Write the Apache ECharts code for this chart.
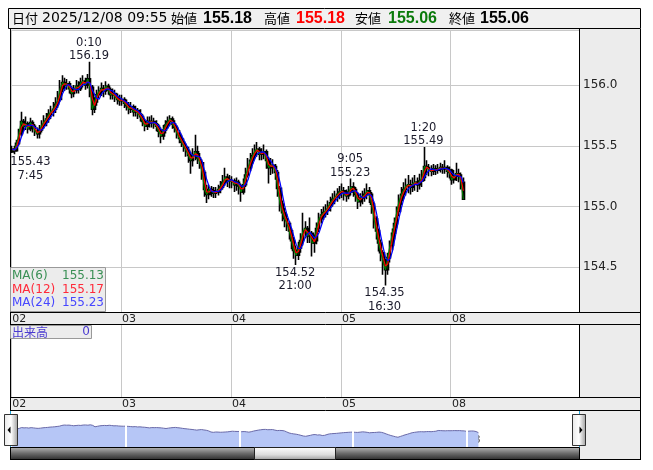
<!DOCTYPE html>
<html><head><meta charset="utf-8">
<script src="https://cdn.jsdelivr.net/npm/echarts@6/dist/echarts.min.js"></script>
<style>html,body{margin:0;padding:0;background:#fff}#c{width:653px;height:470px}</style>
</head><body><div id="c"></div>
<script>
// ---- data (30-minute bars; sessions start 7:00) ----
const days = ['02','03','04','05','08'];
const opens = [
155.45,155.47,155.46,155.52,155.60,155.70,155.66,155.68,155.64,155.69,155.66,155.62,155.60,155.63,155.67,155.70,155.72,155.76,155.78,155.80,155.84,155.88,155.97,156.02,156.00,156.01,155.97,155.93,155.96,155.99,155.97,156.02,156.03,156.00,156.05,155.98,155.80,155.86,155.92,155.95,155.97,155.95,155.99,155.96,155.92,155.93,155.90,155.88,
155.87,155.88,155.85,155.83,155.80,155.82,155.78,155.79,155.76,155.74,155.70,155.66,155.70,155.69,155.70,155.68,155.66,155.62,155.58,155.63,155.67,155.70,155.72,155.68,155.65,155.60,155.56,155.53,155.49,155.46,155.42,155.38,155.42,155.45,155.40,155.36,155.28,155.14,155.10,155.14,155.13,155.11,155.12,155.14,155.16,155.20,155.24,155.22,
155.21,155.21,155.18,155.20,155.17,155.12,155.18,155.26,155.32,155.38,155.42,155.46,155.47,155.43,155.44,155.45,155.38,155.32,155.34,155.33,155.28,155.15,155.02,154.95,154.90,154.86,154.80,154.72,154.64,154.60,154.66,154.72,154.80,154.82,154.76,154.78,154.70,154.72,154.82,154.90,154.93,154.95,154.97,155.00,155.03,155.06,155.08,155.10,
155.12,155.13,155.10,155.09,155.12,155.16,155.14,155.10,155.04,155.07,155.08,155.10,155.13,155.10,155.02,154.90,154.80,154.70,154.62,154.54,154.48,154.58,154.68,154.78,154.86,154.96,155.05,155.10,155.14,155.17,155.18,155.16,155.19,155.20,155.18,155.21,155.24,155.33,155.32,155.30,155.29,155.31,155.30,155.31,155.32,155.31,155.32,155.29,
155.30,155.22,155.25,155.27,155.26,155.20];
const highs = [
155.50,155.50,155.55,155.64,155.78,155.72,155.74,155.70,155.73,155.71,155.68,155.65,155.67,155.71,155.75,155.77,155.80,155.83,155.86,155.90,155.95,156.04,156.08,156.06,156.05,156.03,155.99,156.00,156.04,156.03,156.06,156.08,156.06,156.09,156.19,156.00,155.90,155.96,155.99,156.02,156.00,156.03,156.01,155.98,155.97,155.96,155.93,155.92,
155.92,155.90,155.88,155.86,155.86,155.84,155.83,155.81,155.80,155.76,155.72,155.74,155.74,155.75,155.73,155.71,155.68,155.65,155.67,155.71,155.74,155.75,155.74,155.71,155.67,155.63,155.59,155.56,155.52,155.49,155.45,155.48,155.59,155.50,155.44,155.39,155.30,155.18,155.18,155.17,155.16,155.16,155.18,155.21,155.26,155.32,155.27,155.26,
155.25,155.23,155.24,155.22,155.19,155.23,155.32,155.40,155.44,155.48,155.51,155.53,155.49,155.48,155.51,155.47,155.41,155.40,155.39,155.35,155.30,155.17,155.05,154.99,154.94,154.88,154.82,154.75,154.68,154.71,154.78,154.95,154.88,154.84,154.91,154.80,154.77,154.87,154.95,154.98,155.00,155.02,155.05,155.08,155.11,155.13,155.15,155.17,
155.19,155.16,155.14,155.17,155.23,155.20,155.16,155.12,155.11,155.13,155.15,155.19,155.16,155.12,155.04,154.92,154.82,154.73,154.64,154.57,154.62,154.72,154.82,154.91,155.00,155.10,155.16,155.20,155.23,155.26,155.22,155.24,155.26,155.24,155.27,155.30,155.49,155.38,155.35,155.34,155.35,155.34,155.35,155.36,155.35,155.38,155.34,155.33,
155.31,155.30,155.36,155.31,155.28,155.24];
const lows = [
155.44,155.43,155.45,155.50,155.58,155.62,155.63,155.60,155.62,155.61,155.58,155.56,155.56,155.61,155.64,155.66,155.69,155.72,155.74,155.77,155.81,155.86,155.94,155.95,155.96,155.93,155.89,155.90,155.93,155.93,155.95,155.98,155.96,155.97,155.90,155.75,155.77,155.83,155.89,155.91,155.90,155.92,155.92,155.88,155.88,155.86,155.84,155.83,
155.83,155.81,155.79,155.76,155.77,155.74,155.74,155.72,155.70,155.66,155.62,155.63,155.65,155.65,155.64,155.62,155.57,155.52,155.55,155.60,155.64,155.66,155.64,155.61,155.56,155.52,155.49,155.45,155.41,155.36,155.27,155.33,155.38,155.35,155.31,155.22,155.08,155.03,155.06,155.08,155.07,155.07,155.09,155.11,155.14,155.17,155.16,155.15,
155.15,155.12,155.13,155.10,155.04,155.10,155.16,155.24,155.29,155.35,155.39,155.41,155.38,155.38,155.39,155.31,155.19,155.26,155.27,155.22,155.08,154.96,154.88,154.83,154.80,154.73,154.65,154.57,154.52,154.56,154.62,154.68,154.74,154.70,154.70,154.59,154.62,154.69,154.79,154.86,154.89,154.91,154.93,154.96,155.00,155.02,155.04,155.06,
155.07,155.05,155.04,155.06,155.09,155.08,155.04,154.98,155.00,155.02,155.04,155.06,155.03,154.94,154.82,154.73,154.63,154.55,154.44,154.35,154.44,154.54,154.64,154.73,154.82,154.92,155.01,155.06,155.09,155.11,155.10,155.12,155.13,155.12,155.14,155.16,155.21,155.26,155.25,155.25,155.26,155.26,155.27,155.28,155.27,155.27,155.24,155.23,
155.18,155.19,155.21,155.20,155.14,155.06];
const closes = [
155.47,155.46,155.52,155.60,155.70,155.66,155.68,155.64,155.69,155.66,155.62,155.60,155.63,155.67,155.70,155.72,155.76,155.78,155.80,155.84,155.88,155.97,156.02,156.00,156.01,155.97,155.93,155.96,155.99,155.97,156.02,156.03,156.00,156.05,155.98,155.80,155.86,155.92,155.95,155.97,155.95,155.99,155.96,155.92,155.93,155.90,155.88,155.87,
155.88,155.85,155.83,155.80,155.82,155.78,155.79,155.76,155.74,155.70,155.66,155.70,155.69,155.70,155.68,155.66,155.62,155.58,155.63,155.67,155.70,155.72,155.68,155.65,155.60,155.56,155.53,155.49,155.46,155.42,155.38,155.42,155.45,155.40,155.36,155.28,155.14,155.10,155.14,155.13,155.11,155.12,155.14,155.16,155.20,155.24,155.22,155.21,
155.21,155.18,155.20,155.17,155.12,155.18,155.26,155.32,155.38,155.42,155.46,155.47,155.43,155.44,155.45,155.38,155.32,155.34,155.33,155.28,155.15,155.02,154.95,154.90,154.86,154.80,154.72,154.64,154.60,154.66,154.72,154.80,154.82,154.76,154.78,154.70,154.72,154.82,154.90,154.93,154.95,154.97,155.00,155.03,155.06,155.08,155.10,155.12,
155.13,155.10,155.09,155.12,155.16,155.14,155.10,155.04,155.07,155.08,155.10,155.13,155.10,155.02,154.90,154.80,154.70,154.62,154.54,154.48,154.58,154.68,154.78,154.86,154.96,155.05,155.10,155.14,155.17,155.18,155.16,155.19,155.20,155.18,155.21,155.24,155.33,155.32,155.30,155.29,155.31,155.30,155.31,155.32,155.31,155.32,155.29,155.28,
155.22,155.25,155.27,155.26,155.20,155.06];

// moving averages defined on 5-minute bars
const maNames = ['MA(6)','MA(12)','MA(24)'];
const maPeriods5m = [6,12,24];
const maLegendValues = ['155.13','155.17','155.23'];

// annotated highs / lows
const pivotDays   = ['02','02','04','05','05','05'];
const pivotTimes  = ['7:45','0:10','21:00','9:05','16:30','1:20'];
const pivotPrices = [155.43,156.19,154.52,155.23,154.35,155.49];
const pivotKinds  = ['low','high','low','high','low','high'];

// header
const headerDate = '2025/12/08 09:55';
const headerLabels = ['始値','高値','安値','終値'];
const headerValues = ['155.18','155.18','155.06','155.06'];

const volumeLabel = '出来高';
const volumeValue = '0';

// ---- build ----
const BAR_MIN = 30, PER_DAY = 48, N_MAIN = 248, N_NAV = 240;
function slotName(i){
  const d = Math.floor(i / PER_DAY);
  if (d >= days.length) return 'x' + i;
  const m = (420 + BAR_MIN * (i % PER_DAY)) % 1440;
  return days[d] + ' ' + String(Math.floor(m/60)).padStart(2,'0') + ':' + String(m%60).padStart(2,'0');
}
const mainCats = Array.from({length:N_MAIN}, (_,i)=>slotName(i));
const navCats = Array.from({length:N_NAV}, (_,i)=>slotName(i));
const isDayStart = i => i % PER_DAY === 0 && i / PER_DAY < days.length;
const dayLabel = (v,i) => isDayStart(i) ? days[i/PER_DAY] : '';

const candles = opens.map((o,i)=>[o, closes[i], lows[i], highs[i]]);
function movingAvg(win){
  return closes.map((_,i)=>{ const s=Math.max(0,i-win+1); let t=0; for(let k=s;k<=i;k++) t+=closes[k]; return +(t/(i-s+1)).toFixed(4); });
}
const maColors = ['#008000','#ff0000','#0000ff'];
const maSeries = maPeriods5m.map((p,k)=>({
  type:'line', name:maNames[k], xAxisIndex:0, yAxisIndex:0,
  data: movingAvg(Math.max(1, Math.round(p*5/BAR_MIN))),
  symbol:'none', lineStyle:{color:maColors[k], width:1.2}, itemStyle:{color:maColors[k]}, z:3+k
}));

function pivotIndex(k){
  const d = days.indexOf(pivotDays[k]);
  const [h,m] = pivotTimes[k].split(':').map(Number);
  const mins = ((h*60+m) - 420 + 1440) % 1440;
  return d*PER_DAY + Math.floor(mins / BAR_MIN);
}
const FONT = '"DejaVu Sans", sans-serif';
const markData = pivotPrices.map((p,k)=>{
  const high = pivotKinds[k] === 'high';
  return {
    coord:[pivotIndex(k), p], value:p,
    label:{
      show:true, position: high ? 'top':'bottom', distance: high ? -1 : 1,
      formatter: high ? (pivotTimes[k] + '\n' + p.toFixed(2)) : (p.toFixed(2) + '\n' + pivotTimes[k]),
      color:'#1a1a2a', fontSize:11.5, lineHeight:13.5, fontFamily:FONT, align:'center',
      offset: k===0 ? [16,0] : [-1,0]
    }
  };
});

const G = echarts.graphic;
const els = [];
function rect(x,y,w,h,style,z){ els.push({type:'rect', shape:{x,y,width:w,height:h}, style, z:z, silent:true}); }
function line(x1,y1,x2,y2,stroke,z,w){ els.push({type:'line', shape:{x1,y1,x2,y2}, style:{stroke, lineWidth:w||1}, z:z||100, silent:true}); }
function text(x,y,t,font,fill,align){ els.push({type:'text', x, y, style:{text:t, font, fill, align:align||'left', verticalAlign:'middle', textAlign:align||'left', textVerticalAlign:'middle'}, z:120, silent:true}); }

// backgrounds
rect(10,29,630,431,{fill:'#ececec'},-20);
rect(11,30,568,282,{fill:'#fff'},-10);
rect(11,325,568,72,{fill:'#fff'},-10);
rect(11,411,568,36,{fill:'#fff'},-10);
// header
rect(8.5,8.5,632,20,{fill:'#f0f0f0', stroke:'#000', lineWidth:1},100);
// frame lines
line(10.5,29,10.5,460,'#000');
line(640.5,29,640.5,460,'#000');
line(579.5,29,579.5,312,'#000');
line(579.5,325,579.5,397,'#000');
line(10,312.5,641,312.5,'#000');
line(10,324.5,641,324.5,'#000');
line(10,397.5,641,397.5,'#000');
line(10,410.5,641,410.5,'#000');
line(10,459.5,641,459.5,'#000');
// navigator edges
line(10.5,411,10.5,447,'#22a8e0',101);
line(579.5,411,579.5,447,'#22a8e0',101);
// scrollbar
rect(10.5,447.5,569,12,{fill:new G.LinearGradient(0,0,0,1,[{offset:0,color:'#b8b8b8'},{offset:0.5,color:'#6a6a6a'},{offset:1,color:'#2a2a2a'}]), stroke:'#000', lineWidth:1},102);
rect(254.5,447.5,81,12,{fill:new G.LinearGradient(0,0,0,1,[{offset:0,color:'#ffffff'},{offset:0.6,color:'#dcdcdc'},{offset:1,color:'#9a9a9a'}]), stroke:'#222', lineWidth:1},103);
// handles
const hg = new G.LinearGradient(0,0,1,0,[{offset:0,color:'#e8e8e8'},{offset:0.5,color:'#ffffff'},{offset:1,color:'#9c9c9c'}]);
rect(4.5,414.5,13,31,{fill:hg, stroke:'#333', lineWidth:1},104);
rect(572.5,414.5,13,31,{fill:hg, stroke:'#333', lineWidth:1},104);
els.push({type:'polygon', shape:{points:[[7.5,430],[10.5,426.5],[10.5,433.5]]}, style:{fill:'#000'}, z:105, silent:true});
els.push({type:'polygon', shape:{points:[[582.5,430],[579.5,426.5],[579.5,433.5]]}, style:{fill:'#000'}, z:105, silent:true});
// MA legend box
rect(10.5,267.5,95,44,{fill:'#ececec', stroke:'#999', lineWidth:1},110);
const legColors = ['#3a8f55','#ff2a3a','#4646ff'];
maNames.forEach((n,k)=>{ text(12,276+k*13.5,n,'12px '+FONT,legColors[k]); text(104,276+k*13.5,maLegendValues[k],'12px '+FONT,legColors[k],'right'); });
// volume box
rect(10.5,325.5,81,13,{fill:'#ececec', stroke:'#999', lineWidth:1},110);
text(12,332,volumeLabel,'12px "Noto Sans CJK JP", sans-serif','#4a3ad0');
text(90,332,volumeValue,'12px '+FONT,'#4a3ad0','right');
// header texts
const CJK = '"Noto Sans CJK JP", sans-serif';
text(12,18.5,'日付','13px '+CJK,'#000');
text(42,18.5,headerDate,'14px '+FONT,'#000');
const labX = [171,264,355,449], valX = [203,296,388,480];
const valColors = ['#000','#ff0000','#0a7a0a','#000'];
headerLabels.forEach((l,k)=>{ text(labX[k],18.5,l,'13px '+CJK,'#000'); text(valX[k],18.5,headerValues[k],'bold 16px "Liberation Sans", sans-serif',valColors[k]); });

const stripLabel = {fontSize:11, color:'#222', fontFamily:FONT, align:'left', margin:2, verticalAlign:'top', interval:(i)=>isDayStart(i), formatter:dayLabel};
const option = {
  animation:false,
  backgroundColor:'#fff',
  grid:[
    {left:11, top:30, width:568, height:282},
    {left:11, top:325, width:568, height:72},
    {left:11, top:411, width:568, height:36}
  ],
  xAxis:[
    {type:'category', gridIndex:0, data:mainCats, boundaryGap:true, axisLine:{show:false}, axisTick:{show:false},
     axisLabel:stripLabel, splitLine:{show:true, interval:(i)=>isDayStart(i), lineStyle:{color:'#c8c8c8', width:1}}},
    {type:'category', gridIndex:1, data:mainCats, boundaryGap:true, axisLine:{show:false}, axisTick:{show:false},
     axisLabel:stripLabel, splitLine:{show:true, interval:(i)=>isDayStart(i), lineStyle:{color:'#c8c8c8', width:1}}},
    {type:'category', gridIndex:2, data:navCats, boundaryGap:true, axisLine:{show:false}, axisTick:{show:false},
     axisLabel:{inside:true, fontSize:11, color:'#333', fontFamily:FONT, align:'left', margin:1, interval:(i)=>isDayStart(i), formatter:dayLabel},
     splitLine:{show:false}}
  ],
  yAxis:[
    {type:'value', gridIndex:0, position:'right', min:154.133, max:156.452, splitNumber:5, scale:true,
     axisLine:{show:false}, axisTick:{show:false},
     axisLabel:{showMinLabel:false, showMaxLabel:false, fontSize:12, color:'#222', fontFamily:FONT, margin:4, align:'left', formatter:v=>v.toFixed(1)},
     splitLine:{show:true, lineStyle:{color:'#c8c8c8', width:1}}},
    {type:'value', gridIndex:1, min:0, max:1, show:false, splitLine:{show:false}},
    {type:'value', gridIndex:2, min:153.25, max:157.79, show:false, splitLine:{show:false}}
  ],
  series:[
    {type:'candlestick', xAxisIndex:0, yAxisIndex:0, data:candles, barWidth:2.3,
     itemStyle:{color:'#0b5e0b', color0:'#000', borderColor:'#000', borderColor0:'#000', borderWidth:1.6},
     markPoint:{symbol:'circle', symbolSize:0, silent:true, data:markData}, z:2},
    ...maSeries,
    {type:'line', xAxisIndex:2, yAxisIndex:2, data:closes, symbol:'none',
     lineStyle:{color:'#6a6aa8', width:1}, areaStyle:{color:'#b6c6f6', opacity:1, origin:'start'},
     markLine:{silent:true, symbol:'none', label:{show:false}, lineStyle:{color:'#fff', width:2, type:'solid'},
       data:days.slice(1).map((d,k)=>({xAxis:(k+1)*PER_DAY}))}}
  ],
  graphic:{elements:els}
};
const chart = echarts.init(document.getElementById('c'), null, {renderer:'canvas'});
chart.setOption(option);
</script></body></html>
